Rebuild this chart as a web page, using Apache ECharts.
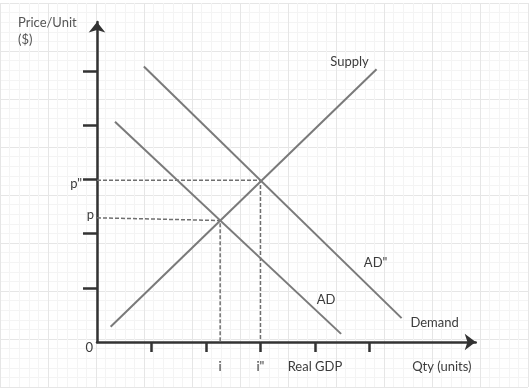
<!DOCTYPE html>
<html>
<head>
<meta charset="utf-8">
<script src="https://cdn.jsdelivr.net/npm/echarts@6/dist/echarts.min.js"></script>
<style>html,body{margin:0;padding:0;background:#fff}#c{width:532px;height:388px}</style>
</head>
<body>
<div id="c"></div>
<script>
// ---- data (in axis units: one tick = 1 unit) ----
const supplyLine = [[0.25, 0.28], [5.13, 5.03]];
const adLine = [[0.33, 4.06], [4.48, 0.15]];
const adDoubleLine = [[0.86, 5.08], [5.59, 0.44]];
const pGuide = [[0, 2.29], [2.26, 2.24], [2.26, 0]];
const ppGuide = [[0, 2.98], [3.0, 2.98], [3.0, 0]];
const xTickValues = [1, 2, 3, 4, 5];
const yTickValues = [1, 2, 3, 4, 5];
const xLabelValues = [2.26, 3.0, 4, 6.33];
const xLabelTexts = ['i', 'i"', 'Real GDP', 'Qty (units)'];
const yLabelValues = [0, 2.29, 3];
const yLabelTexts = ['0', 'p', 'p"'];
const yRichKeys = ['z', 'p', 'pp'];
const seriesNames = ['Supply', 'AD', 'AD"'];
const extraLabel = 'Demand';
const yTitle = 'Price/Unit\n($)';

const FONT = 'Lato, "Open Sans", sans-serif';
const FS = 13;
const TXT = '#3c3c3c';
const AX = '#333';
const CURVE = '#7a7a7a';

function findIdx(arr, v) {
  let best = 0, bd = Infinity;
  arr.forEach((a, i) => { const d = Math.abs(a - v); if (d < bd) { bd = d; best = i; } });
  return best;
}

const chart = echarts.init(document.getElementById('c'), null, {renderer: 'canvas'});
const lineSeries = (name, data, labels) => ({
  name, type: 'line', xAxisIndex: 1, yAxisIndex: 1, data, symbol: 'none',
  lineStyle: {color: CURVE, width: 2}, silent: true, z: 3,
  markPoint: {
    symbol: 'circle', symbolSize: 0, silent: true,
    data: labels.map(l => ({coord: data[data.length - 1], label: {show: true, position: 'inside', formatter: l.t, offset: l.o, color: TXT, fontFamily: FONT, fontSize: FS}}))
  }
});
const guideSeries = (data) => ({
  type: 'line', xAxisIndex: 1, yAxisIndex: 1, data, symbol: 'none', silent: true, z: 2,
  lineStyle: {color: '#6f6f6f', width: 1.5, type: [4, 2]}
});

const option = {
  animation: false,
  backgroundColor: '#fff',
  title: {
    text: yTitle, left: 18, top: 14, padding: 0,
    textStyle: {fontFamily: FONT, fontSize: FS, fontWeight: 'normal', color: '#555', lineHeight: 17}
  },
  grid: [
    {left: 0, top: 3, width: 528, height: 384, containLabel: false, outerBoundsMode: 'none', z: 0},
    {left: 97, top: 22, width: 378.7, height: 320, containLabel: false, outerBoundsMode: 'none'}
  ],
  xAxis: [
    {type: 'value', gridIndex: 0, min: 0, max: 528, interval: 48, silent: true,
     axisLine: {show: false}, axisTick: {show: false}, axisLabel: {show: false},
     splitLine: {show: true, lineStyle: {color: '#e6e6e6', width: 1}},
     minorTick: {show: false, splitNumber: 5},
     minorSplitLine: {show: true, lineStyle: {color: '#f4f4f4', width: 1}}},
    {type: 'value', gridIndex: 1, min: 0, max: 6.95, interval: 1, silent: true,
     axisLine: {show: true, onZero: false, symbol: ['none', 'arrow'], symbolSize: [12.5, 11], lineStyle: {color: AX, width: 2.5}},
     axisTick: {show: true, inside: false, length: 10, customValues: xTickValues, lineStyle: {color: AX, width: 2.5}},
     axisLabel: {show: true, margin: 18, customValues: xLabelValues, color: TXT, fontFamily: FONT, fontSize: FS,
       formatter: v => xLabelTexts[findIdx(xLabelValues, v)]},
     splitLine: {show: false}}
  ],
  yAxis: [
    {type: 'value', gridIndex: 0, min: 0, max: 384, interval: 48, inverse: true, silent: true,
     axisLine: {show: false}, axisTick: {show: false}, axisLabel: {show: false},
     splitLine: {show: true, lineStyle: {color: '#e6e6e6', width: 1}},
     minorTick: {show: false, splitNumber: 5},
     minorSplitLine: {show: true, lineStyle: {color: '#f4f4f4', width: 1}}},
    {type: 'value', gridIndex: 1, min: 0, max: 5.9, interval: 1, silent: true,
     axisLine: {show: true, onZero: false, symbol: ['none', 'arrow'], symbolSize: [12.5, 10.5], lineStyle: {color: AX, width: 2.5}},
     axisTick: {show: true, inside: false, length: 14, customValues: yTickValues, lineStyle: {color: AX, width: 2.5}},
     axisLabel: {show: true, margin: 3, customValues: yLabelValues, color: TXT, fontFamily: FONT, fontSize: FS,
       formatter: v => { const i = findIdx(yLabelValues, v); return '{' + yRichKeys[i] + '|' + yLabelTexts[i] + '}'; },
       rich: {
         z: {fontFamily: FONT, fontSize: FS, color: TXT, padding: [12, 1, 0, 0]},
         p: {fontFamily: FONT, fontSize: FS, color: TXT, padding: [0, 0, 5, 0]},
         pp: {fontFamily: FONT, fontSize: FS, color: TXT, padding: [10, 12, 0, 0]}
       }},
     splitLine: {show: false}}
  ],
  series: [
    guideSeries(pGuide),
    guideSeries(ppGuide),
    lineSeries(seriesNames[0], supplyLine, [{t: seriesNames[0], o: [-27, -7]}]),
    lineSeries(seriesNames[1], adLine, [{t: seriesNames[1], o: [-15, -34]}]),
    lineSeries(seriesNames[2], adDoubleLine, [{t: seriesNames[2], o: [-26, -55]}, {t: extraLabel, o: [33, 5]}])
  ]
};
chart.setOption(option);
</script>
</body>
</html>
